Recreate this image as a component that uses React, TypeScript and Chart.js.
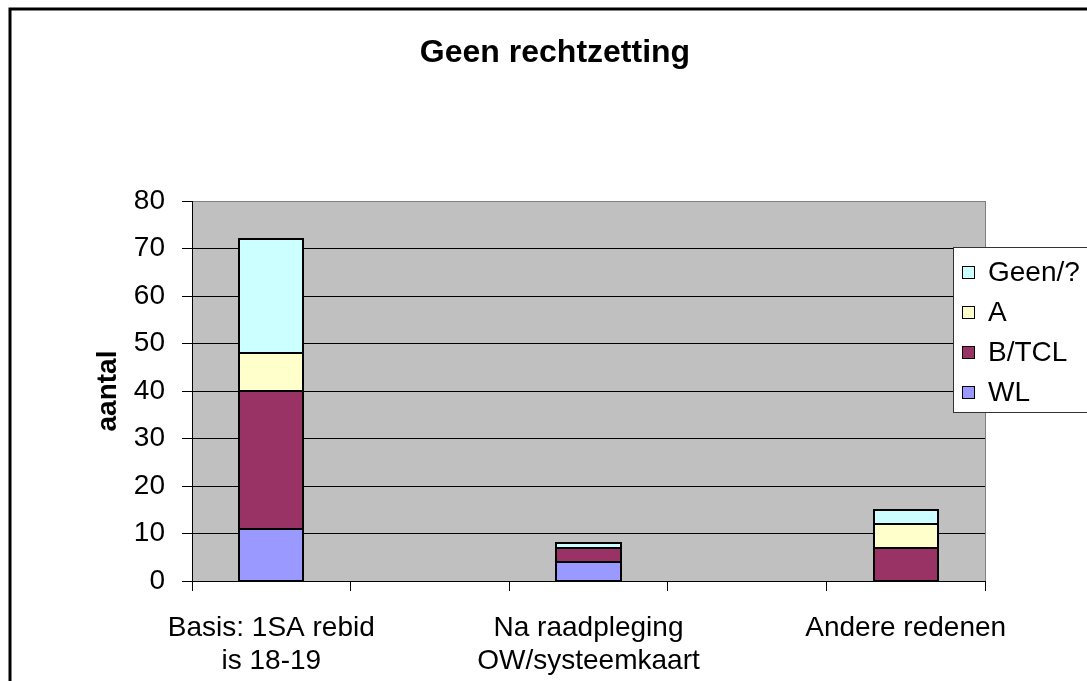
import React, { useEffect, useRef } from "react";
import { Chart, registerables } from "chart.js";

Chart.register(...registerables);

const chartTitle = "Geen rechtzetting";
const categories: (string | string[])[] = [
  ["Basis: 1SA rebid", "is 18-19"],
  "",
  ["Na raadpleging", "OW/systeemkaart"],
  "",
  "Andere redenen",
];
const wl = [11, null, 4, null, 0];
const btcl = [29, null, 3, null, 7];
const aVals = [8, null, 0, null, 5];
const geen = [24, null, 1, null, 3];
const yTicks = [0, 10, 20, 30, 40, 50, 60, 70, 80];

const seriesNames = ["WL", "B/TCL", "A", "Geen/?"];
const seriesColors = ["#9999FF", "#993366", "#FFFFCC", "#CCFFFF"];

const FONT = "'Liberation Sans', Arial, sans-serif";

export default function App() {
  const ref = useRef<HTMLCanvasElement | null>(null);

  useEffect(() => {
    const canvas = ref.current;
    if (!canvas) return;

    const decor = {
      id: "decor",
      beforeDraw(chart: any) {
        const { ctx, chartArea: ca } = chart;
        ctx.save();
        ctx.fillStyle = "#ffffff";
        ctx.fillRect(0, 0, chart.width, chart.height);
        ctx.fillStyle = "#C0C0C0";
        ctx.fillRect(ca.left, ca.top, ca.right - ca.left, ca.bottom - ca.top);
        ctx.restore();
      },
      afterDatasetsDraw(chart: any) {
        const { ctx } = chart;
        ctx.save();
        ctx.strokeStyle = "#000";
        ctx.lineWidth = 2;
        chart.data.datasets.forEach((ds: any, di: number) => {
          const meta = chart.getDatasetMeta(di);
          meta.data.forEach((el: any, i: number) => {
            const v = ds.data[i];
            if (v === null || v === 0) return;
            const { x, y, base, width } = el.getProps(["x", "y", "base", "width"], true);
            const l = Math.round(x - width / 2);
            const r = Math.round(x + width / 2);
            const t = Math.round(Math.min(y, base));
            const b = Math.round(Math.max(y, base));
            ctx.strokeRect(l, t, r - l, b - t);
          });
        });
        ctx.restore();
      },
      afterDraw(chart: any) {
        const { ctx, chartArea: ca } = chart;
        ctx.save();
        // title
        ctx.fillStyle = "#000";
        ctx.font = "bold 32px " + FONT;
        ctx.textAlign = "center";
        ctx.textBaseline = "middle";
        ctx.fillText(chartTitle, 555, 53);
        // plot right border
        ctx.strokeStyle = "#808080";
        ctx.lineWidth = 1;
        ctx.beginPath();
        ctx.moveTo(Math.round(ca.right) + 0.5, ca.top);
        ctx.lineTo(Math.round(ca.right) + 0.5, ca.bottom);
        ctx.stroke();
        // outer frame
        ctx.strokeStyle = "#000";
        ctx.lineWidth = 3;
        ctx.strokeRect(10, 9, 2000, 2000);
        // legend
        const lx = 953.5, ly = 247.5;
        ctx.fillStyle = "#fff";
        ctx.fillRect(lx, ly, 300, 165);
        ctx.strokeStyle = "#333";
        ctx.lineWidth = 1;
        ctx.strokeRect(lx, ly, 300, 165);
        const order = [3, 2, 1, 0];
        ctx.font = "28px " + FONT;
        ctx.textBaseline = "middle";
        ctx.textAlign = "left";
        order.forEach((di, i) => {
          const cy = 273 + i * 40;
          const ds = chart.data.datasets[di];
          ctx.fillStyle = ds.backgroundColor;
          ctx.fillRect(962.5, cy - 6.5, 12, 12);
          ctx.strokeStyle = "#000";
          ctx.strokeRect(962.5, cy - 6.5, 12, 12);
          ctx.fillStyle = "#000";
          ctx.fillText(ds.label, 988, cy);
        });
        ctx.restore();
      },
    };

    const seriesData = [wl, btcl, aVals, geen];
    const chart = new Chart(canvas, {
      type: "bar",
      data: {
        labels: categories,
        datasets: seriesData.map((d, i) => ({
          label: seriesNames[i],
          data: d,
          backgroundColor: seriesColors[i],
          borderWidth: 0,
          barPercentage: 0.404,
          categoryPercentage: 1,
        })),
      },
      options: {
        responsive: false,
        animation: false,
        layout: { padding: { left: 0, right: 102, top: 201, bottom: 0 } },
        plugins: {
          legend: { display: false },
          tooltip: { enabled: false },
          title: { display: false },
        },
        scales: {
          x: {
            stacked: true,
            afterFit: (s: any) => {
              s.height = 100;
            },
            border: { display: true, color: "#000", width: 1 },
            grid: {
              offset: true,
              drawOnChartArea: false,
              drawTicks: true,
              tickLength: 10,
              color: "#000",
            },
            ticks: {
              color: "#000",
              font: { family: FONT, size: 28 },
              padding: 20,
              maxRotation: 0,
              autoSkip: false,
            },
          },
          y: {
            stacked: true,
            min: 0,
            max: 80,
            afterFit: (s: any) => {
              s.width = 192;
            },
            afterBuildTicks: (s: any) => {
              s.ticks = yTicks.map((v) => ({ value: v }));
            },
            border: { display: true, color: "#000", width: 1 },
            grid: {
              color: (c: any) => (c.tick && c.tick.value === 80 ? "#808080" : "#000"),
              tickColor: "#000",
              tickLength: 10,
            },
            ticks: {
              color: "#000",
              font: { family: FONT, size: 28 },
              padding: 17,
            },
            title: {
              display: true,
              text: "aantal",
              color: "#000",
              font: { family: FONT, size: 28, weight: "bold" },
              padding: { top: 91, bottom: 0 },
            },
          },
        },
      },
      plugins: [decor],
    } as any);

    return () => chart.destroy();
  }, []);

  return (
    <div style={{ position: "fixed", left: 0, top: 0, width: 1087, height: 681 }}>
      <canvas ref={ref} width={1087} height={681} style={{ display: "block" }} />
    </div>
  );
}
